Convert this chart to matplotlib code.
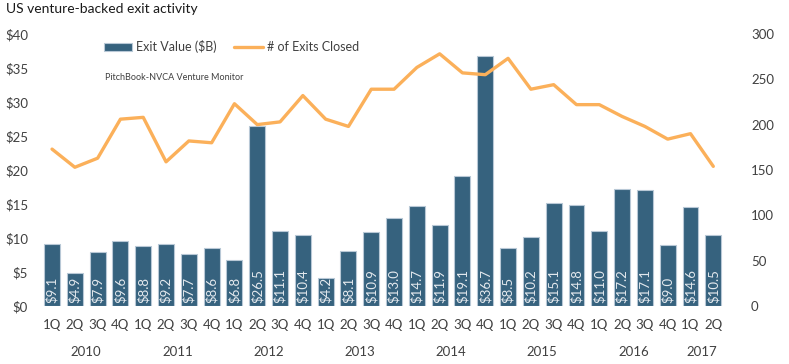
import matplotlib.pyplot as plt
import numpy as np

plt.rcParams['font.family'] = ['Lato', 'DejaVu Sans']

# data
quarters = ['1Q', '2Q', '3Q', '4Q'] * 7 + ['1Q', '2Q']
years = ['2010', '2011', '2012', '2013', '2014', '2015', '2016', '2017']
exit_value = [9.1, 4.9, 7.9, 9.6, 8.8, 9.2, 7.7, 8.6, 6.8, 26.5, 11.1, 10.4,
              4.2, 8.1, 10.9, 13.0, 14.7, 11.9, 19.1, 36.7, 8.5, 10.2, 15.1, 14.8,
              11.0, 17.2, 17.1, 9.0, 14.6, 10.5]
exits_closed = [173, 153, 163, 206, 208, 159, 182, 180, 223, 200, 203, 232,
                206, 198, 239, 239, 263, 278, 257, 255, 273, 239, 244, 222,
                222, 209, 198, 184, 190, 154]

bar_color = '#36627e'
line_color = '#fbb05a'
text_color = '#404040'

fig = plt.figure(figsize=(7.89, 3.64), dpi=100)
ax = fig.add_axes([0.0515, 0.159, 0.867, 0.748])
ax2 = ax.twinx()

x = np.arange(len(exit_value))
bars = ax.bar(x, exit_value, width=0.7, color=bar_color, edgecolor='#b8c8d6',
              linewidth=0.8, label='Exit Value ($B)', zorder=2)
for xi, v in zip(x, exit_value):
    ax.text(xi, 0.4, f'${v:.1f}', rotation=90, ha='center', va='bottom',
            color='#e4e9ee', fontsize=9.5, zorder=3)

# line sits on top of the bars (twin axes drawn after)
line, = ax2.plot(x, exits_closed, color=line_color, linewidth=2.4,
                 label='# of Exits Closed', solid_capstyle='round')

ax.set_xlim(-0.5, len(x) - 0.5)
ax.set_ylim(0, 40)
ax.set_yticks(range(0, 41, 5))
ax.set_yticklabels([f'${v}' for v in range(0, 41, 5)])
ax2.set_ylim(0, 300)
ax2.set_yticks(range(0, 301, 50))

ax.set_xticks(x)
ax.set_xticklabels(quarters)

for a in (ax, ax2):
    for s in a.spines.values():
        s.set_visible(False)
    a.tick_params(length=0, labelsize=9.5, colors=text_color)
ax.tick_params(axis='y', pad=9)
ax.tick_params(axis='x', pad=9)
ax2.tick_params(axis='y', pad=19)

# year labels under the quarters
for i, yr in enumerate(years):
    idx = [j for j in range(len(x)) if j // 4 == i]
    ax.text(np.mean(idx), -0.17, yr, transform=ax.get_xaxis_transform(),
            ha='center', va='center', fontsize=9.5, color=text_color)

fig.text(0.008, 0.975, 'US venture-backed exit activity', fontsize=10,
         color='#1a1a1a', ha='left', va='center')
fig.text(0.133, 0.788, 'PitchBook-NVCA Venture Monitor', fontsize=6.5,
         color=text_color, ha='left', va='center')

fig.legend(handles=[bars, line], loc='center left', bbox_to_anchor=(0.117, 0.871),
           ncol=2, frameon=False, fontsize=9, handlelength=2.3,
           columnspacing=1.4, handletextpad=0.3, labelcolor=text_color)

fig.savefig('out.png', dpi=100)
